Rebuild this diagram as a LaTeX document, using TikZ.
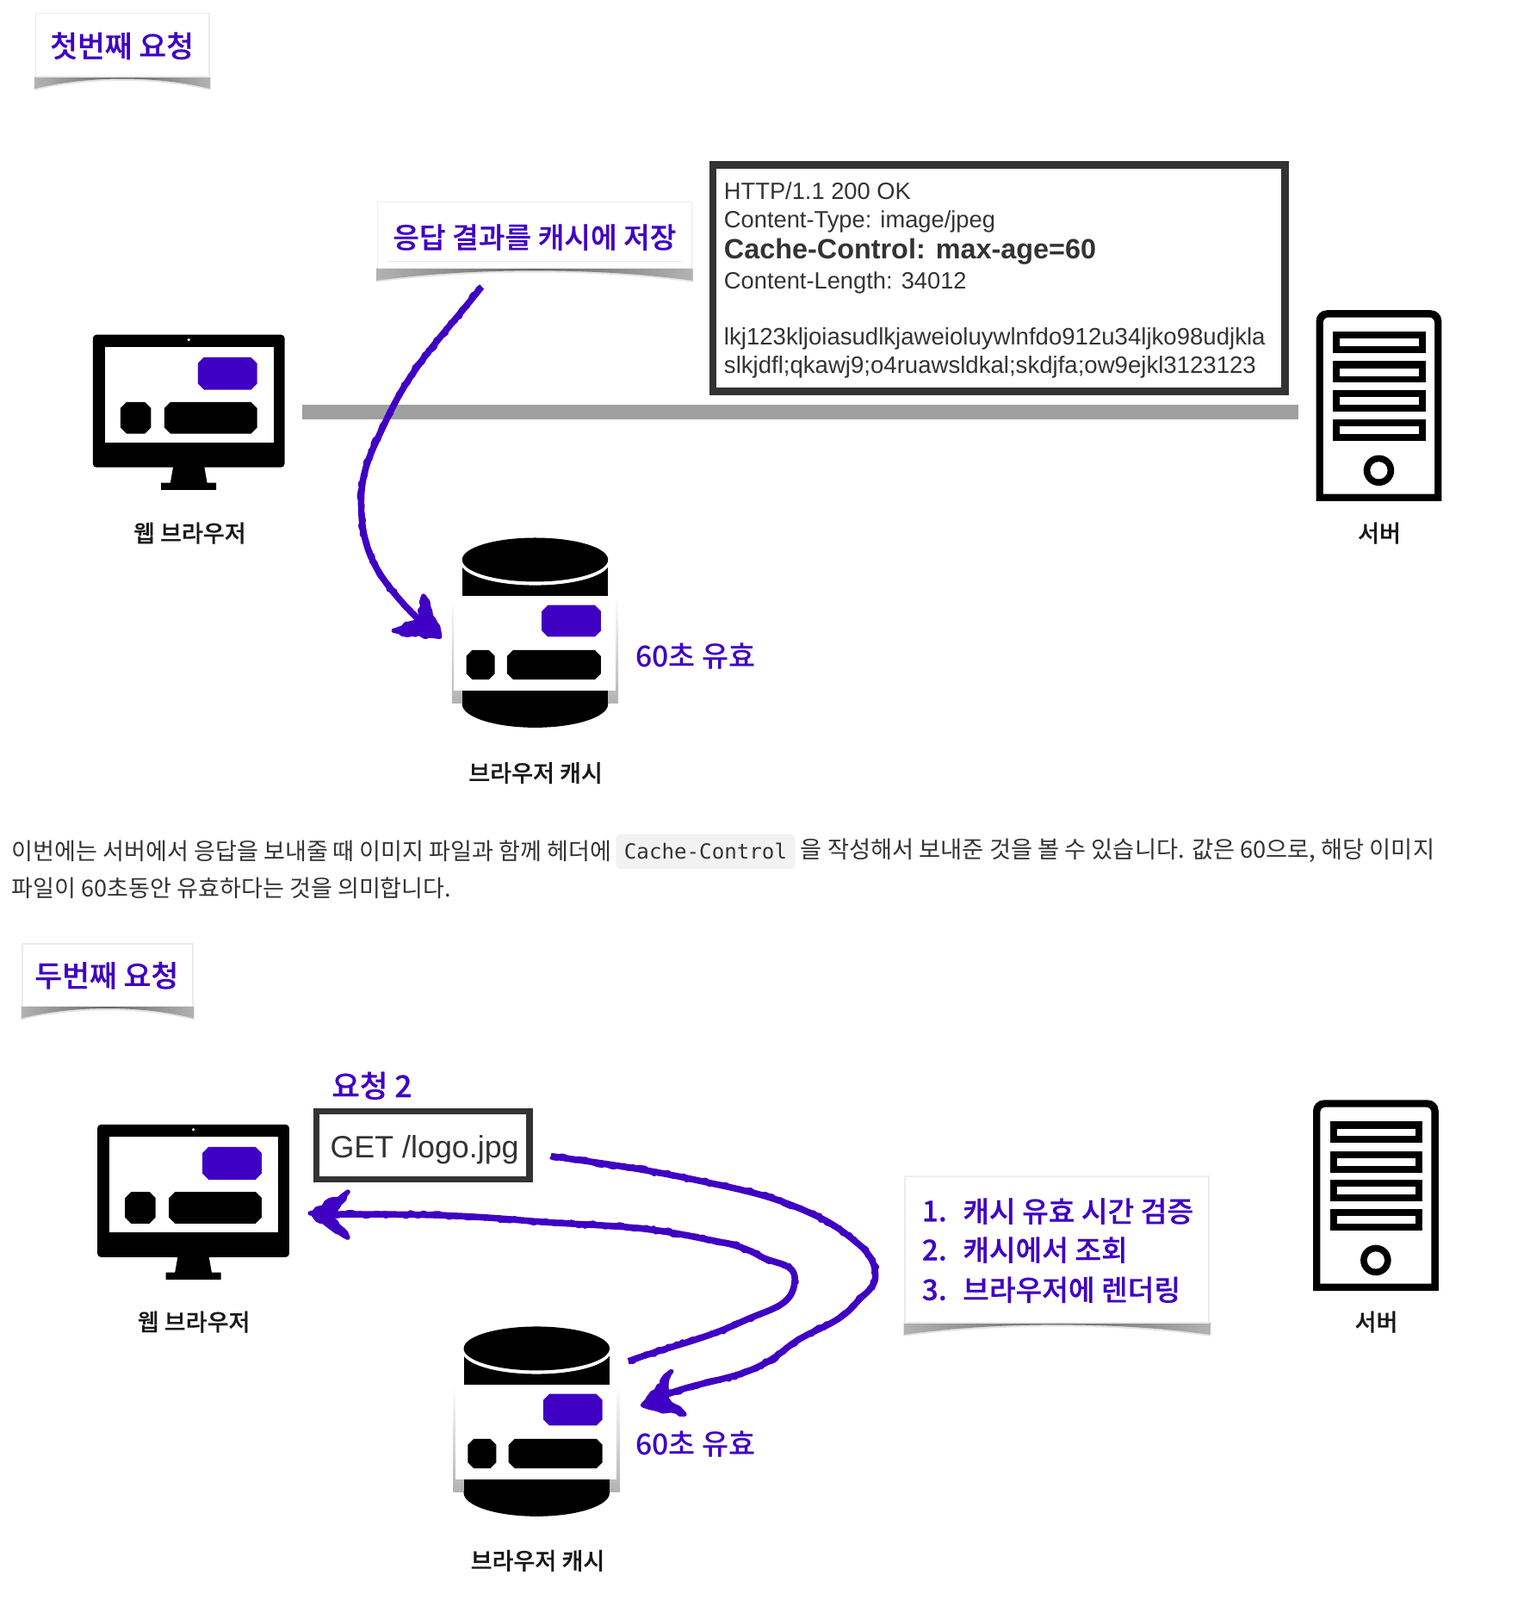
\documentclass[tikz,border=0pt]{standalone}
\usepackage{fontspec}
\setmainfont{Liberation Sans}
\setmonofont{DejaVu Sans Mono}
\newfontfamily\kr{Noto Sans CJK KR}
\newfontfamily\krm{Noto Sans CJK KR Medium}
\newfontfamily\krs[FakeBold=0.35]{Noto Sans CJK KR Medium}
\usetikzlibrary{decorations.pathmorphing}
\definecolor{reqblue}{HTML}{4000C4}
\definecolor{boxdark}{HTML}{333333}
% chamfered button: colour, x1, y1, x2, y2
\newcommand{\chamfer}[5]{\fill[#1] ({#2+6},#3) -- ({#4-6},#3) -- (#4,{#3+6}) -- (#4,{#5-6}) -- ({#4-6},#5) -- ({#2+6},#5) -- (#2,{#5-6}) -- (#2,{#3+6}) -- cycle;}
% sticky note with curled shadow: x1, y1, x2, y2
\newcommand{\notecard}[4]{
        \fill[gray!22] ({#1-1.5},#4) -- ({#1-1.5},{#4+13.5}) .. controls ({#1+(#3-#1)*0.3},{#4+1}) and ({#1+(#3-#1)*0.7},{#4+1}) .. ({#3+1.5},{#4+13.5}) -- ({#3+1.5},#4) -- cycle;
        \shade[left color=gray!60, right color=gray!60, middle color=black!60] ({#1-1},#4) -- ({#1-1},{#4+12}) .. controls ({#1+(#3-#1)*0.3},{#4-1}) and ({#1+(#3-#1)*0.7},{#4-1}) .. ({#3+1},{#4+12}) -- ({#3+1},#4) -- cycle;
        \draw[draw=gray!15, fill=white, line width=0.4pt] (#1,#2) rectangle (#3,#4);
}
\tikzset{
        notetext/.style={font=\krs\fontsize{8}{10}\selectfont, text=reqblue, inner sep=0pt},
        iconlabel/.style={font=\krs\fontsize{6.5}{8}\selectfont, text=black!90, inner sep=0pt},
        validtext/.style={font=\krm\fontsize{8.1}{10}\selectfont, text=reqblue, inner sep=0pt},
        bodytext/.style={font=\kr\fontsize{6.5}{8}\selectfont, text=black!80, inner sep=0pt, anchor=west},
        httptext/.style={font=\fontsize{6.55}{8}\selectfont, text=boxdark, inner sep=0pt, anchor=base west},
        sketch/.style={draw=reqblue, line width=1.8pt, line join=round, postaction={draw=reqblue, line width=1.4pt, decorate, decoration={random steps, segment length=1pt, amplitude=0.55pt}}},
        sketchhead/.style={draw=reqblue, fill=reqblue, line width=1.3pt, line join=round, decorate, decoration={random steps, segment length=1.3pt, amplitude=0.5pt}},
        browsericon/.pic={
                \fill[rounded corners=1pt] (91,328) rectangle (279,458);
                \fill[white] (103,340) rectangle (268,434);
                \fill[white] (185,333) circle (1.5);
                \chamfer{reqblue}{194}{350}{252}{382}
                \chamfer{black}{118}{394}{148}{425}
                \chamfer{black}{161}{394}{252}{425}
                \fill (170,456) -- (200,456) -- (203,473) -- (212,473) -- (212,480) -- (158,480) -- (158,473) -- (167,473) -- cycle;
        },
        cacheicon/.pic={
                \shade[top color=white, bottom color=gray!60] (443,584) rectangle (606,689);
                \fill (453,553) rectangle (596,690);
                \fill (524.5,690) ellipse [x radius=71.5, y radius=23];
                \fill[white] (524.5,551) ellipse [x radius=73, y radius=22.5];
                \fill (524.5,548.5) ellipse [x radius=71.5, y radius=21.5];
                \fill[white] (445,584) rectangle (603,677);
                \chamfer{reqblue}{531}{593}{589}{624}
                \chamfer{black}{457}{637}{485}{666}
                \chamfer{black}{497}{637}{589}{666}
        },
        servericon/.pic={
                \fill[rounded corners=3pt] (1290,491) -- (1290,304) -- (1413,304) -- (1413,491);
                \fill[white, rounded corners=1.5pt] (1297,484) -- (1297,311) -- (1406,311) -- (1406,484);
                \foreach \y in {325,354,382,411} {
                        \fill (1306.5,\y) rectangle (1397.5,\y+21);
                        \fill[white] (1313.5,\y+7) rectangle (1390.5,\y+14.5);
                }
                \fill (1351.5,461) circle (15);
                \fill[white] (1351.5,461) circle (8.5);
        }
}
\begin{document}
\begin{tikzpicture}[x=0.01cm, y=-0.01cm]
        \useasboundingbox (0,0) rectangle (1499,1568);

        % First request title
        \notecard{35}{13}{205}{75}
        \node[notetext, font=\krs\fontsize{8.3}{10}\selectfont] (firstTitle) at (119.5,45) {첫번째 요청};

        % Wire between browser and server
        \coordinate (wireStart) at (296,404);
        \coordinate (wireEnd) at (1273,404);
        \draw[gray!75, line width=4pt] (wireStart) -- (wireEnd);

        % First request icons
        \pic at (0,0) {browsericon};
        \pic at (0,0) {servericon};
        \pic at (0,0) {cacheicon};
        \node[iconlabel] (browserOne) at (186,522.5) {웹 브라우저};
        \node[iconlabel] (serverOne) at (1352,522.5) {서버};
        \node[iconlabel] (cacheOne) at (525,757.5) {브라우저 캐시};
        \node[validtext] (validOne) at (682,643) {60초 유효};

        % Store note
        \notecard{370}{198}{678}{263}
        \draw[gray!18, line width=0.3pt] (380,256) -- (668,256);
        \node[notetext] (storeNote) at (524,232.5) {응답 결과를 캐시에 저장};

        % Response message
        \draw[boxdark, fill=white, line width=2pt] (698.5,161.5) rectangle (1259.5,383.5);
        \node[httptext] (resStatus) at (709,195.5) {HTTP/1.1 200 OK};
        \node[httptext] (resType) at (709,223) {Content-Type: image/jpeg};
        \node[httptext, font=\bfseries\fontsize{7.77}{9}\selectfont] (resCache) at (709,254) {Cache-Control: max-age=60};
        \node[httptext] (resLength) at (709,283) {Content-Length: 34012};
        \node[httptext, font=\fontsize{6.62}{8}\selectfont] (resBodyA) at (709,338) {lkj123kljoiasudlkjaweioluywlnfdo912u34ljko98udjkla};
        \node[httptext, font=\fontsize{6.62}{8}\selectfont] (resBodyB) at (709,365.5) {slkjdfl;qkawj9;o4ruawsldkal;skdjfa;ow9ejkl3123123};

        % Store arrow
        \coordinate (storeStart) at (472,281);
        \coordinate (storeEnd) at (411,608);
        \coordinate (storeTip) at (431,624);
        \draw[sketch] (storeStart) to[out=232,in=65] (378,413) to[out=245,in=90] (354,492) to[out=270,in=130] (387,582) to[out=310,in=135] (storeEnd);
        \path[sketchhead] (storeTip) -- (427,611) -- (415,584) -- (storeEnd) -- (386,618) -- (407,622) -- cycle;

        % Explanation text
        \node[bodytext] (paraOne) at (11,834) {이번에는 서버에서 응답을 보내줄 때 이미지 파일과 함께 헤더에};
        \node[bodytext, font=\ttfamily\fontsize{5.8}{8}\selectfont, fill=gray!10, rounded corners=1.5pt, inner xsep=2.3pt, minimum height=0.34cm] (codeChip) at (603,834.5) {Cache-Control};
        \node[bodytext, font=\kr\fontsize{6.55}{8}\selectfont] (paraTwo) at (784,834) {을 작성해서 보내준 것을 볼 수 있습니다. 값은 60으로, 해당 이미지};
        \node[bodytext] (paraThree) at (11,870) {파일이 60초동안 유효하다는 것을 의미합니다.};

        % Second request title
        \notecard{22}{925}{189}{986}
        \node[notetext, font=\krs\fontsize{8.3}{10}\selectfont] (secondTitle) at (104.5,956) {두번째 요청};

        % Second request icons
        \pic at (4.5,774) {browsericon};
        \pic at (-3,774) {servericon};
        \pic at (1.5,773) {cacheicon};
        \node[iconlabel] (browserTwo) at (190,1295.5) {웹 브라우저};
        \node[iconlabel] (serverTwo) at (1349,1295.5) {서버};
        \node[iconlabel] (cacheTwo) at (527,1529.5) {브라우저 캐시};
        \node[validtext] (validTwo) at (682,1415) {60초 유효};

        % Request message
        \node[notetext, font=\krs\fontsize{8.5}{10}\selectfont] (reqTitle) at (364.5,1064) {요청 2};
        \draw[boxdark, fill=white, line width=1.7pt] (310,1089) rectangle (519,1156);
        \node[httptext, font=\fontsize{8.6}{10}\selectfont] (reqLine) at (323,1135) {GET /logo.jpg};

        % Lookup arrow
        \coordinate (lookupStart) at (540,1133);
        \coordinate (lookupEnd) at (650,1368);
        \coordinate (lookupTip) at (630,1377);
        \draw[sketch] (lookupStart) to[out=-8,in=168] (685,1157) to[out=-12,in=155] (799,1191) to[out=-25,in=140] (846,1223) to[out=-50,in=90] (858,1250) to[out=-90,in=50] (839,1277) to[out=230,in=40] (770,1322) to[out=220,in=22] (lookupEnd);
        \path[sketchhead] (lookupTip) -- (658,1344) -- (lookupEnd) -- (671,1386) -- cycle;

        % Reply arrow
        \coordinate (replyStart) at (616,1334);
        \coordinate (replyEnd) at (325,1190);
        \coordinate (replyTip) at (304,1189);
        \draw[sketch] (replyStart) to[out=20,in=205] (730,1294) to[out=25,in=-90, looseness=1.1] (779,1253) to[out=90,in=-30] (745,1231) to[out=150,in=-12] (685,1213) to[out=168,in=-5] (513,1196) to[out=175,in=0] (replyEnd);
        \path[sketchhead] (replyTip) -- (341,1168) -- (replyEnd) -- (341,1213) -- cycle;

        % Steps note
        \notecard{887}{1153}{1185}{1296}
        \node[notetext, anchor=west] (stepNumA) at (903,1187) {1.};
        \node[notetext, anchor=west] (stepA) at (943,1187) {캐시 유효 시간 검증};
        \node[notetext, anchor=west] (stepNumB) at (903,1225) {2.};
        \node[notetext, anchor=west] (stepB) at (943,1225) {캐시에서 조회};
        \node[notetext, anchor=west] (stepNumC) at (903,1264) {3.};
        \node[notetext, anchor=west] (stepC) at (943,1264) {브라우저에 렌더링};
\end{tikzpicture}
\end{document}
